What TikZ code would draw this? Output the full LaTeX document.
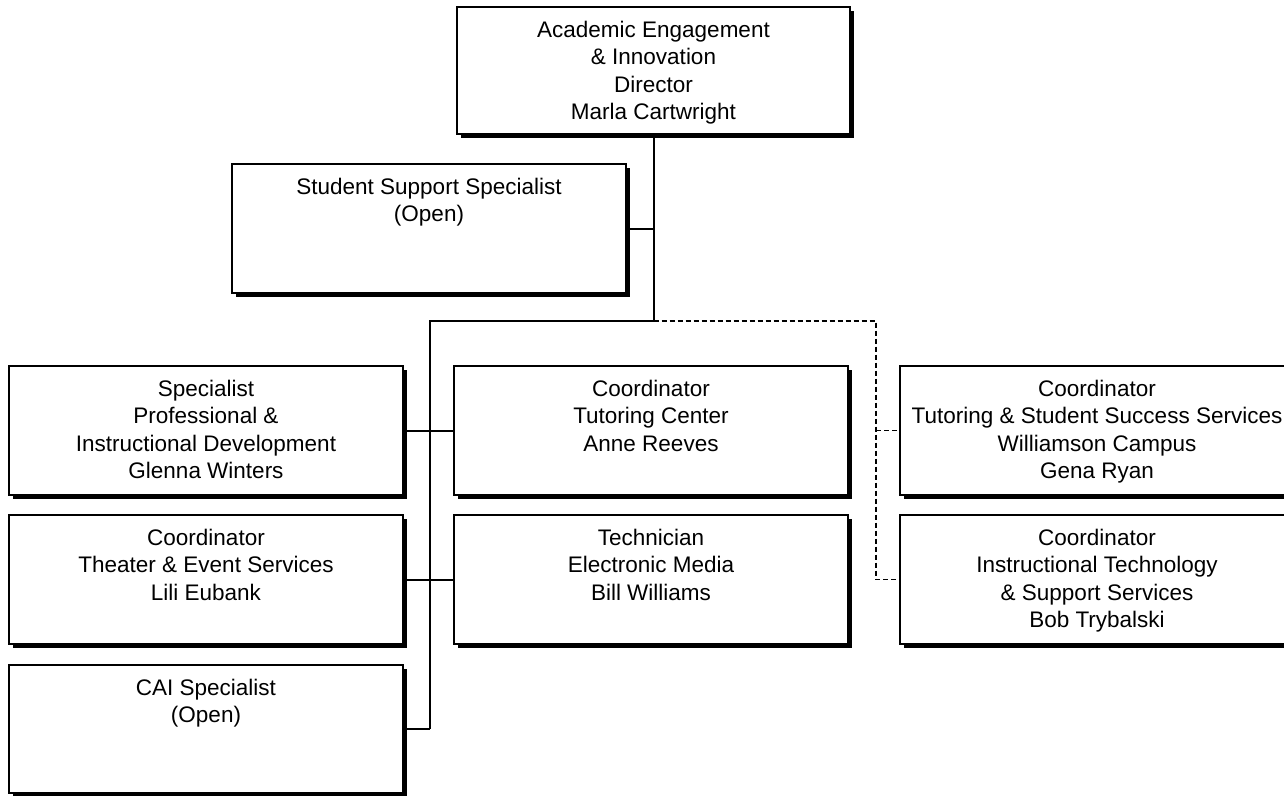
\documentclass[tikz,border=0pt]{standalone}
\usepackage{fontspec}
\setmainfont{Liberation Sans}
\usetikzlibrary{shadows}
\begin{document}
\begin{tikzpicture}[x=1pt,y=-1pt,
  posbox/.style={draw=black, line width=2pt, fill=white, rectangle, inner sep=0pt, outer sep=0pt,
     minimum width=394pt, minimum height=129pt, anchor=north west,
     drop shadow={shadow xshift=4pt, shadow yshift=-4pt, fill=black, opacity=1}},
  postext/.style={anchor=north, align=center, inner sep=0pt, font=\fontsize{22.5}{27.5}\selectfont},
  solidline/.style={line width=2pt},
  dashline/.style={line width=1.5pt, dash pattern=on 5pt off 3pt}]
\useasboundingbox (0,0) rectangle (1284,795);
\clip (0,0) rectangle (1284,795);

% boxes
\node[posbox, minimum width=393pt, minimum height=127pt] (dir) at (457,7) {};
\node[posbox] (ssp) at (232,164) {};
\node[posbox] (spec) at (9,366) {};
\node[posbox] (tut) at (454,366) {};
\node[posbox] (wil) at (900,366) {};
\node[posbox] (thea) at (9,515) {};
\node[posbox] (tech) at (454,515) {};
\node[posbox] (itss) at (900,515) {};
\node[posbox, minimum height=128pt] (cai) at (9,665) {};

% texts
\node[postext] (tdir) at ([yshift=-10.75pt]dir.north) {\strut Academic Engagement\\ \& Innovation\\ Director\\ Marla Cartwright};
\node[postext] (tssp) at ([yshift=-10.75pt]ssp.north) {\strut Student Support Specialist\\ (Open)};
\node[postext] (tspec) at ([yshift=-10.75pt]spec.north) {\strut Specialist\\ Professional \&\\ Instructional Development\\ Glenna Winters};
\node[postext] (ttut) at ([yshift=-10.75pt]tut.north) {\strut Coordinator\\ Tutoring Center\\ Anne Reeves};
\node[postext] (twil) at ([yshift=-10.75pt]wil.north) {\strut Coordinator\\ Tutoring \& Student Success Services\\ Williamson Campus\\ Gena Ryan};
\node[postext] (tthea) at ([yshift=-10.75pt]thea.north) {\strut Coordinator\\ Theater \& Event Services\\ Lili Eubank};
\node[postext] (ttech) at ([yshift=-10.75pt]tech.north) {\strut Technician\\ Electronic Media\\ Bill Williams};
\node[postext] (titss) at ([yshift=-10.75pt]itss.north) {\strut Coordinator\\ Instructional Technology\\ \& Support Services\\ Bob Trybalski};
\node[postext] (tcai) at ([yshift=-10.75pt]cai.north) {\strut CAI Specialist\\ (Open)};

% junction coordinates
\coordinate (hub) at (dir.south |- 0,321);
\coordinate (lbus) at (430,321);
\coordinate (rbus) at (876,321);

% solid connectors
\draw[solidline] (dir.south) -- (hub);
\draw[solidline] (ssp.east) -- (ssp.east -| hub);
\draw[solidline] (hub) -- (lbus) -- (lbus |- cai.east);
\draw[solidline] (spec.east) -- (tut.west);
\draw[solidline] (thea.east) -- (tech.west);
\draw[solidline] (cai.east) -- (cai.east -| lbus);

% dashed connectors
\draw[dashline] (hub) -- (rbus) -- (rbus |- itss.west) -- (itss.west);
\draw[dashline] (wil.west -| rbus) -- (wil.west);
\end{tikzpicture}
\end{document}
